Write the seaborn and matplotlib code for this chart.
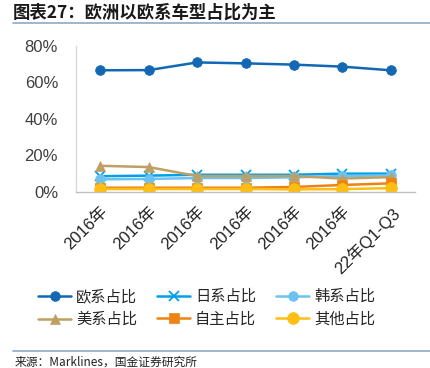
import matplotlib
matplotlib.use("Agg")
import matplotlib.pyplot as plt
import seaborn as sns
import pandas as pd
from matplotlib.lines import Line2D
from matplotlib.ticker import PercentFormatter, FixedLocator

# -----------------------
# Data
# -----------------------
periods = ["2016年", "2016年", "2016年", "2016年", "2016年", "2016年", "22年Q1-Q3"]
eu_share = [0.665, 0.666, 0.708, 0.703, 0.696, 0.685, 0.665]
jp_share = [0.085, 0.088, 0.093, 0.093, 0.093, 0.099, 0.099]
kr_share = [0.068, 0.070, 0.075, 0.075, 0.079, 0.086, 0.090]
us_share = [0.142, 0.135, 0.086, 0.086, 0.086, 0.072, 0.080]
own_share = [0.022, 0.022, 0.022, 0.022, 0.026, 0.037, 0.046]
other_share = [0.015, 0.015, 0.015, 0.015, 0.013, 0.014, 0.020]

series_names = ["欧系占比", "日系占比", "韩系占比", "美系占比", "自主占比", "其他占比"]
series_vals = [eu_share, jp_share, kr_share, us_share, own_share, other_share]
colors = ["#1268B3", "#00A0E9", "#6CC3F0", "#BFA064", "#EE8312", "#FFBE14"]
markers = ["o", "x", "o", "^", "s", "o"]
msizes = [7, 7, 7, 7, 7, 8.5]

sns.set_style("white")
plt.rcParams["font.family"] = ["Liberation Sans", "Noto Sans CJK SC", "DejaVu Sans"]

fig = plt.figure(figsize=(4.3, 3.68), dpi=100)
ax = fig.add_axes([0.177, 0.479, 0.788, 0.397])

x = list(range(len(periods)))
for name, vals, c, m, ms in zip(series_names, series_vals, colors, markers, msizes):
    df = pd.DataFrame({"x": x, "y": vals})
    sns.lineplot(data=df, x="x", y="y", ax=ax, color=c, marker=m, markersize=ms,
                 markeredgecolor=c, markeredgewidth=1.3 if m == "x" else 0.5,
                 linewidth=1.8, sort=False, legend=False)

ax.set_xlim(-0.5, len(periods) - 0.5)
ax.set_ylim(0, 0.8)
ax.set_yticks([0, 0.2, 0.4, 0.6, 0.8])
ax.yaxis.set_major_formatter(PercentFormatter(1.0, decimals=0))
ax.set_xlabel("")
ax.set_ylabel("")

ax.set_xticks(x)
ax.set_xticklabels(periods, rotation=45, ha="right", rotation_mode="anchor",
                   fontsize=12, color="#222222")
ax.xaxis.set_minor_locator(FixedLocator([i - 0.5 for i in range(len(periods) + 1)]))
ax.tick_params(axis="x", which="major", length=0, pad=9)
ax.tick_params(axis="x", which="minor", length=4, color="#BFBFBF", width=1, direction="out")
ax.tick_params(axis="y", length=0, pad=13, labelsize=12, labelcolor="#404040")

for s in ["top", "right"]:
    ax.spines[s].set_visible(False)
ax.spines["left"].set_color("#D9D9D9")
ax.spines["bottom"].set_color("#BFBFBF")
ax.spines["left"].set_linewidth(1)
ax.spines["bottom"].set_linewidth(1)
ax.grid(False)

# -----------------------
# Legend (row-wise order, matplotlib fills column-wise)
# -----------------------
handles = [Line2D([0], [0], color=c, marker=m, markersize=ms, linewidth=1.8,
                  markeredgecolor=c, markeredgewidth=1.3 if m == "x" else 0.5)
           for c, m, ms in zip(colors, markers, msizes)]
order = [0, 3, 1, 4, 2, 5]
fig.legend([handles[i] for i in order], [series_names[i] for i in order],
           ncol=3, loc="center", bbox_to_anchor=(0.48, 0.163),
           frameon=False, fontsize=11, handlelength=2.2, columnspacing=1.3,
           handletextpad=0.3, labelspacing=0.55)

# -----------------------
# Title, rules, source
# -----------------------
fig.text(0.03, 0.965, "图表27：欧洲以欧系车型占比为主", fontsize=12.5, fontweight="bold",
         color="#1a1a1a", ha="left", va="center", family=["Noto Sans CJK SC", "DejaVu Sans"])
fig.add_artist(Line2D([0.03, 1.0], [0.937, 0.937], color="#8FA9C4", linewidth=1.2))
fig.add_artist(Line2D([0.03, 1.0], [0.045, 0.045], color="#8FA9C4", linewidth=1.2))
fig.text(0.035, 0.033, "来源：Marklines，国金证券研究所", fontsize=8.5, color="#222222",
         ha="left", va="top", family=["Noto Sans CJK SC", "DejaVu Sans"])

fig.savefig("out.png", dpi=100)
